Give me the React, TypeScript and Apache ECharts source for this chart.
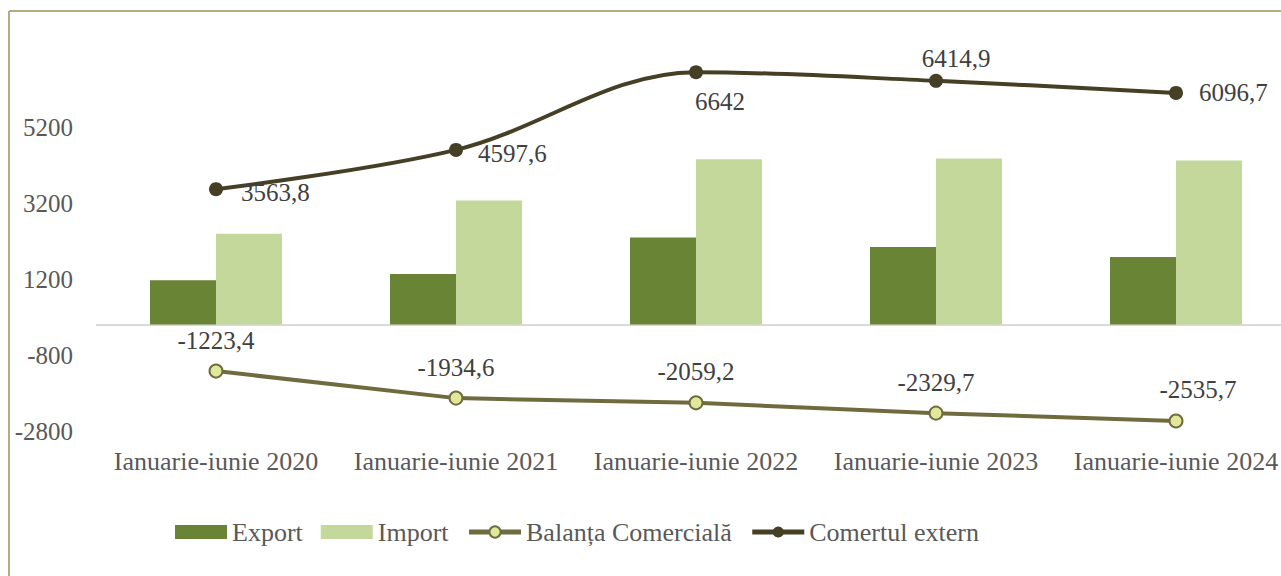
import React, { useEffect, useRef } from "react";
import * as echarts from "echarts";

const categories = [
  "Ianuarie-iunie 2020",
  "Ianuarie-iunie 2021",
  "Ianuarie-iunie 2022",
  "Ianuarie-iunie 2023",
  "Ianuarie-iunie 2024",
];
const exportValues = [1170.2, 1331.5, 2291.4, 2042.6, 1780.5];
const importValues = [2393.6, 3266.1, 4350.6, 4372.3, 4316.2];
const balantaValues = [-1223.4, -1934.6, -2059.2, -2329.7, -2535.7];
const comertValues = [3563.8, 4597.6, 6642, 6414.9, 6096.7];
const tickLabels = [-2800, -800, 1200, 3200, 5200];

const FONT = "'Liberation Serif', 'Times New Roman', serif";
const fmt = (v: number) => String(v).replace(".", ",");

export default function App() {
  const ref = useRef<HTMLDivElement>(null);
  useEffect(() => {
    document.body.style.margin = "0";
    const chart = echarts.init(ref.current!, null, { renderer: "svg" });
    const comertLabels = [
      { position: "right", distance: 18, offset: [0, 3] },
      { position: "right", distance: 15, offset: [0, 4] },
      { position: "bottom", distance: 10, offset: [24, 0] },
      { position: "top", distance: 3, offset: [20, 0] },
      { position: "right", distance: 16, offset: [0, 0] },
    ];
    const balLabels = [
      { offset: [0, 0] },
      { offset: [0, 0] },
      { offset: [0, 0] },
      { offset: [0, 0] },
      { offset: [22, 0] },
    ];
    chart.setOption({
      animation: false,
      textStyle: { fontFamily: FONT },
      grid: { left: 96, width: 1200, top: 51, bottom: 145 },
      legend: {
        left: 170,
        top: 514,
        itemWidth: 52,
        itemHeight: 14,
        itemGap: 18,
        lineStyle: { width: 5 },
        textStyle: { fontFamily: FONT, fontSize: 26, color: "#595959" },
        data: [
          { name: "Export", icon: "rect" },
          { name: "Import", icon: "rect" },
          { name: "Balanța Comercială" },
          { name: "Comertul extern" },
        ],
      },
      xAxis: {
        type: "category",
        data: categories,
        axisLine: { show: false },
        axisTick: { show: false },
        axisLabel: {
          fontFamily: FONT,
          fontSize: 26,
          color: "#595959",
          margin: 17,
          interval: 0,
        },
      },
      yAxis: {
        type: "value",
        min: -2800,
        max: 7200,
        interval: 400,
        splitLine: { show: false },
        axisLine: { show: false },
        axisTick: { show: false },
        axisLabel: {
          fontFamily: FONT,
          fontSize: 25,
          color: "#595959",
          margin: 23,
          formatter: (v: number) =>
            tickLabels.includes(Math.round(v)) ? String(Math.round(v)) : "",
        },
      },
      series: [
        {
          name: "Export",
          type: "bar",
          data: exportValues,
          barWidth: 66,
          barGap: "0%",
          itemStyle: { color: "#6a8436" },
          markLine: {
            silent: true,
            symbol: "none",
            label: { show: false },
            lineStyle: { color: "#d9d9d9", width: 2, type: "solid" },
            data: [{ yAxis: 0 }],
            z: 1,
          },
        },
        {
          name: "Import",
          type: "bar",
          data: importValues,
          barWidth: 66,
          itemStyle: { color: "#c4d89c" },
        },
        {
          name: "Balanța Comercială",
          type: "line",
          data: balantaValues.map((v, i) => ({
            value: v,
            label: { offset: balLabels[i].offset },
          })),
          symbol: "circle",
          symbolSize: 13,
          lineStyle: { color: "#706b3f", width: 4 },
          itemStyle: { color: "#e2e89a", borderColor: "#706b3f", borderWidth: 2 },
          label: {
            show: true,
            position: "top",
            distance: 11,
            fontFamily: FONT,
            fontSize: 25,
            color: "#404040",
            formatter: (p: any) => fmt(p.value),
          },
          z: 5,
        },
        {
          name: "Comertul extern",
          type: "line",
          data: comertValues.map((v, i) => ({
            value: v,
            label: comertLabels[i],
          })),
          smooth: 0.35,
          symbol: "circle",
          symbolSize: 14,
          lineStyle: { color: "#453f26", width: 4 },
          itemStyle: { color: "#453f26" },
          label: {
            show: true,
            fontFamily: FONT,
            fontSize: 25,
            color: "#404040",
            formatter: (p: any) => fmt(p.value),
          },
          z: 6,
        },
      ],
      graphic: [
        {
          type: "line",
          shape: { x1: 9, y1: 11, x2: 1296, y2: 11 },
          style: { stroke: "#b5ad80", lineWidth: 2 },
          silent: true,
        },
        {
          type: "line",
          shape: { x1: 9, y1: 11, x2: 9, y2: 576 },
          style: { stroke: "#b5ad80", lineWidth: 2 },
          silent: true,
        },
      ],
    });
    return () => chart.dispose();
  }, []);
  return (
    <div style={{ width: 1281, height: 576, overflow: "hidden" }}>
      <div ref={ref} style={{ width: 1296, height: 576 }} />
    </div>
  );
}
